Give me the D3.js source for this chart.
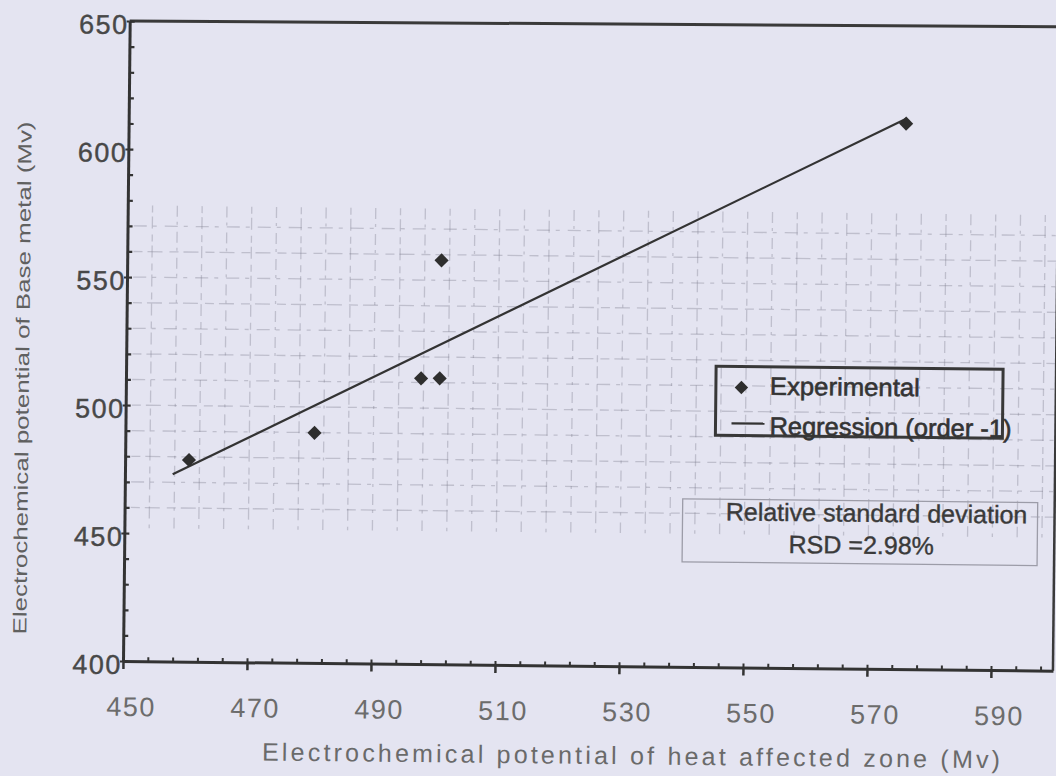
<!DOCTYPE html>
<html>
<head>
<meta charset="utf-8">
<script src="https://cdn.jsdelivr.net/npm/d3@7"></script>
<style>
  html, body { margin: 0; padding: 0; background: #e4e4f1; }
  svg { display: block; }
  text { font-family: "Liberation Sans", Arial, sans-serif; }
</style>
</head>
<body>
<svg id="chart" width="1056" height="776"></svg>
<script>
// Measured electrochemical potentials (mV)
const hazPotential  = [460.3, 480.5, 497.6, 500.6, 500.7, 575.4];   // heat affected zone
const basePotential = [478.8, 489.9, 511.6, 511.7, 557.8, 613.1];   // base metal

// Axis ticks
const xMajorTicks = [450, 470, 490, 510, 530, 550, 570, 590];
const xMinorTicks = d3.range(450, 601, 4);
const yMajorTicks = [400, 450, 500, 550, 600, 650];
const yMinorTicks = d3.range(400, 651, 10);

// Extent over which the fitted line is drawn
const fitExtent = [457.7, 575.4];

const legendLabels = ["Experimental", "Regression (order -1)"];
const rsdLines = ["Relative standard deviation", "RSD =2.98%"];
const xTitle = "Electrochemical potential of heat affected zone (Mv)";
const yTitle = "Electrochemical potential of Base metal (Mv)";

// Plot frame
const frame = { left: 123, right: 1053, top: 21, bottom: 661 };
const tilt = 0.6;

const svg = d3.select("#chart");
const root = svg.append("g").attr("transform", `rotate(${tilt},${frame.left},${frame.bottom})`);

const x = d3.scaleLinear().domain([450, 600]).range([frame.left, frame.right]);
const y = d3.scaleLinear().domain([400, 650]).range([frame.bottom, frame.top]);

// Faint broken background grid
const grid = root.append("g").attr("stroke", "#7c7c8e").attr("stroke-opacity", 0.36)
  .attr("stroke-width", 1.3).attr("fill", "none");
grid.selectAll("line.v").data(xMinorTicks.filter(d => d > 450)).join("line")
  .attr("class", "v")
  .attr("x1", d => x(d)).attr("x2", d => x(d))
  .attr("y1", y(578)).attr("y2", y(452))
  .attr("stroke-dasharray", (d, i) => i % 2 ? "11 5 3 7" : "7 4 12 6");
grid.selectAll("line.h").data(d3.range(460, 580, 10)).join("line")
  .attr("class", "h")
  .attr("x1", x(451)).attr("x2", x(600))
  .attr("y1", d => y(d)).attr("y2", d => y(d))
  .attr("stroke-dasharray", (d, i) => i % 2 ? "13 6 4 8" : "9 5 15 7");

// Frame top and right edges
root.append("line").attr("x1", frame.left).attr("x2", frame.right)
  .attr("y1", frame.top).attr("y2", frame.top - 4)
  .attr("stroke", "#3a3a3a").attr("stroke-width", 3);
root.append("line").attr("x1", frame.right).attr("x2", frame.right)
  .attr("y1", frame.top).attr("y2", frame.bottom)
  .attr("stroke", "#3a3a3a").attr("stroke-width", 2.5);

// X axis: major ticks downward with labels, minor ticks upward
const xAxis = root.append("g").attr("transform", `translate(0,${frame.bottom})`)
  .call(d3.axisBottom(x).tickValues(xMajorTicks).tickSizeInner(8).tickSizeOuter(0)
    .tickPadding(30).tickFormat(d3.format("d")));
xAxis.select(".domain").attr("stroke", "#333").attr("stroke-width", 3);
xAxis.selectAll(".tick line").attr("stroke", "#333").attr("stroke-width", 2.5);
xAxis.selectAll(".tick text").attr("font-size", 27).attr("letter-spacing", 1.5)
  .attr("fill", "#6c6c6c").attr("dx", 8).attr("dy", 0).attr("y", 55);

const xMinor = root.append("g").attr("transform", `translate(0,${frame.bottom})`)
  .call(d3.axisTop(x).tickValues(xMinorTicks).tickSizeInner(4).tickSizeOuter(0).tickFormat(""));
xMinor.select(".domain").remove();
xMinor.selectAll(".tick line").attr("stroke", "#333").attr("stroke-width", 2);

// Y axis: labels on the left, minor ticks inside
const yAxis = root.append("g").attr("transform", `translate(${frame.left},0)`)
  .call(d3.axisLeft(y).tickValues(yMajorTicks).tickSizeInner(3).tickSizeOuter(0)
    .tickPadding(2).tickFormat(d3.format("d")));
yAxis.select(".domain").attr("stroke", "#333").attr("stroke-width", 3);
yAxis.selectAll(".tick line").attr("stroke", "#333").attr("stroke-width", 2);
yAxis.selectAll(".tick text").attr("font-size", 27).attr("letter-spacing", 1.5)
  .attr("fill", "#484848").attr("stroke", "#484848").attr("stroke-width", 0.4)
  .attr("dy", 12.5).attr("x", -1);

const yMinor = root.append("g").attr("transform", `translate(${frame.left},0)`)
  .call(d3.axisRight(y).tickValues(yMinorTicks).tickSizeInner(5).tickSizeOuter(0).tickFormat(""));
yMinor.select(".domain").remove();
yMinor.selectAll(".tick line").attr("stroke", "#333").attr("stroke-width", 2.2);

// Least-squares line through the measurements
const mx = d3.mean(hazPotential), my = d3.mean(basePotential);
const sxy = d3.sum(hazPotential, (v, i) => (v - mx) * (basePotential[i] - my));
const sxx = d3.sum(hazPotential, v => (v - mx) * (v - mx));
const slope = sxy / sxx, intercept = my - slope * mx;
const fitLine = d3.line().x(d => x(d)).y(d => y(slope * d + intercept));
root.append("path").datum(fitExtent).attr("d", fitLine)
  .attr("fill", "none").attr("stroke", "#333").attr("stroke-width", 2.2);

// Experimental points (diamonds)
const diamond = d3.symbol().type(d3.symbolSquare).size(100);
root.append("g").selectAll("path").data(hazPotential).join("path")
  .attr("d", diamond)
  .attr("transform", (d, i) => `translate(${x(d)},${y(basePotential[i])}) rotate(45)`)
  .attr("fill", "#2e2e2e");

// Legend
const legend = root.append("g");
legend.append("rect").attr("x", 713).attr("y", 360).attr("width", 287).attr("height", 69)
  .attr("fill", "none").attr("stroke", "#383838").attr("stroke-width", 3);
legend.append("path").attr("d", d3.symbol().type(d3.symbolSquare).size(90))
  .attr("transform", "translate(738.5,381) rotate(45)").attr("fill", "#2e2e2e");
legend.append("line").attr("x1", 729).attr("x2", 762).attr("y1", 417).attr("y2", 417)
  .attr("stroke", "#333").attr("stroke-width", 2.2);
legend.selectAll("text").data(legendLabels).join("text")
  .attr("x", 767).attr("y", (d, i) => i ? 428 : 388)
  .attr("textLength", (d, i) => i ? 242 : 150).attr("lengthAdjust", "spacingAndGlyphs")
  .attr("font-size", 25).attr("fill", "#343434")
  .attr("stroke", "#343434").attr("stroke-width", 0.6).text(d => d);

// Relative standard deviation note
const note = root.append("g");
note.append("rect").attr("x", 681).attr("y", 493).attr("width", 355).attr("height", 63)
  .attr("fill", "none").attr("stroke", "#9c9ca8").attr("stroke-width", 1.3);
note.selectAll("text").data(rsdLines).join("text")
  .attr("x", (d, i) => i ? 860 : 875).attr("y", (d, i) => i ? 546 : 514)
  .attr("text-anchor", "middle").attr("font-size", 25).attr("fill", "#3a3a3a")
  .attr("stroke", "#3a3a3a").attr("stroke-width", 0.4)
  .text(d => d);

// Axis titles
root.append("text").attr("x", 632).attr("y", 759).attr("text-anchor", "middle")
  .attr("font-size", 25).attr("fill", "#6a6a6a")
  .attr("textLength", 738).attr("lengthAdjust", "spacing").text(xTitle);
root.append("text").attr("transform", "translate(26,379) rotate(-90)")
  .attr("text-anchor", "middle").attr("font-size", 19).attr("fill", "#606060")
  .attr("textLength", 513).attr("lengthAdjust", "spacingAndGlyphs").text(yTitle);
</script>
</body>
</html>
